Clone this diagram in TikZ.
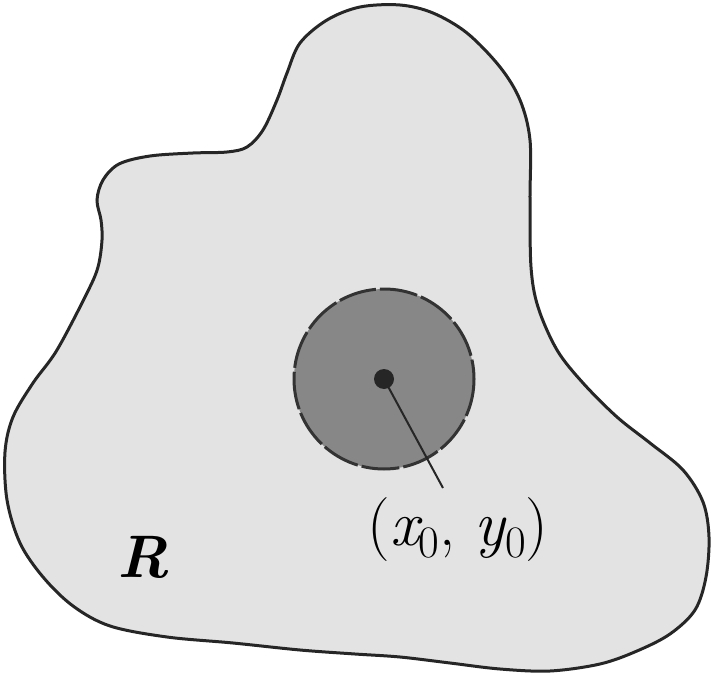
\documentclass[tikz,border=0pt]{standalone}
\newcommand{\subz}{\raisebox{-0.2em}{\fontsize{45}{45}\selectfont 0}}
\begin{document}
\begin{tikzpicture}[x=1pt,y=-1pt,
  regionstyle/.style={draw=black!85,line width=3pt,fill=black!11},
  discstyle/.style={draw=black!80,line width=3pt,fill=black!47,dash pattern=on 38pt off 4pt},
  labelstyle/.style={font=\fontsize{60}{60}\selectfont,inner sep=0pt},
  coordlabel/.style={font=\fontsize{64}{64}\selectfont,inner sep=0pt}]
\useasboundingbox (0,0) rectangle (712,687);
% region R
\draw[regionstyle] plot[smooth cycle,tension=0.55] coordinates {
 (400,5) (433,13) (467,33) (500,67) (520,100) (530,140) (530,200) (531,267)
 (538,307) (557,350) (583,383) (617,417) (650,443) (683,470) (703,502)
 (709,537) (706,577) (695,610) (670,634) (637,651) (600,664) (550,671)
 (500,669) (450,663) (400,657) (355,654) (300,650) (233,643) (167,637)
 (110,626) (73,606) (43,577) (20,543) (7,500) (5,452) (13,417) (33,383)
 (57,350) (87,293) (98,267) (102,240) (101,220) (97,200) (103,180)
 (119,164) (150,156) (193,153) (227,152) (247,147) (263,130) (277,100)
 (287,73) (300,43) (327,20) (360,7)};
% disc
\coordinate (c) at (384,379);
\coordinate (tip) at (443,488);
\draw[discstyle] (c) circle[radius=90];
\fill[black!85] (c) circle[radius=10];
\draw[black!85,line width=2pt] (c) -- (tip);
% labels
\node[coordlabel,anchor=base] (lbl) at (458,545) {({\itshape x}\subz, {\itshape y}\subz)};
\node[labelstyle,anchor=base] (rlabel) at (143,577) {\bfseries\itshape R};
\end{tikzpicture}
\end{document}
